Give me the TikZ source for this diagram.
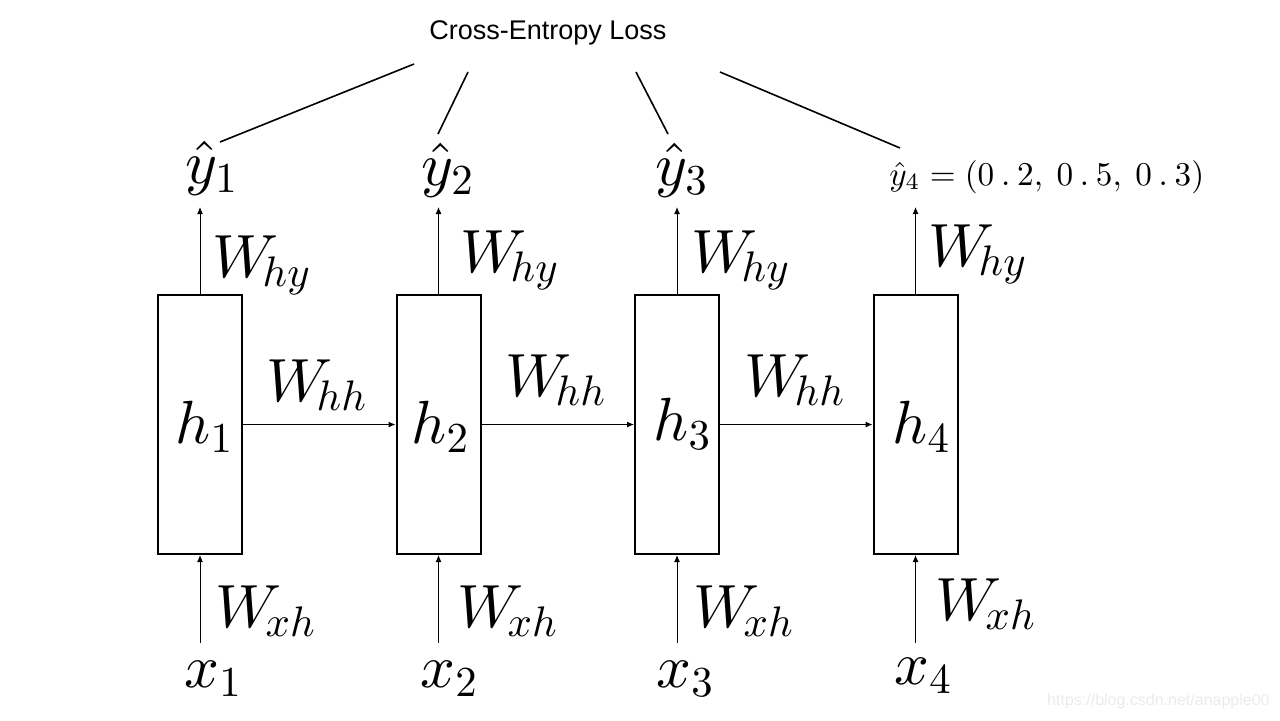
\documentclass[tikz,border=0pt]{standalone}
\usepackage{fontspec}
\usepackage{graphicx}
\newfontfamily\arialfont{Liberation Sans}
\usetikzlibrary{arrows.meta}
\newcommand{\rnnbig}[1]{\scalebox{3.05}{$#1$}}
\newcommand{\rnnmid}[1]{\scalebox{1.66}{$#1$}}
\newcommand{\rs}[1]{\scalebox{0.7}{$#1$}}
\newcommand{\ws}[1]{W_{\kern-1.2pt\rs{#1}}}
\begin{document}
\begin{tikzpicture}[x=0.5pt,y=-0.5pt,
  cell/.style={draw, line width=1pt, minimum width=42pt, minimum height=129.5pt, inner sep=0pt},
  flow/.style={line width=0.5pt, -{Latex[length=3.5pt,width=3pt]}},
  lossline/.style={line width=0.8pt},
  big/.style={font=\fontsize{10}{12}\selectfont, inner sep=0pt, anchor=base west},
  losstext/.style={font=\arialfont\fontsize{13.5}{16}\selectfont, inner sep=0pt},
  wmark/.style={font=\arialfont\fontsize{8}{9}\selectfont, text=black!8, inner sep=0pt, anchor=east}
]
\useasboundingbox (0,0) rectangle (1280,720);

% cells
\node[cell] (c1) at (200,424.5) {};
\node[cell] (c2) at (438.5,424.5) {};
\node[cell] (c3) at (677,424.5) {};
\node[cell] (c4) at (915.5,424.5) {};

% hidden state labels
\node[big] (h1) at (175,443) {\rnnbig{h_{\rs{1}}}};
\node[big] (h2) at (411,443) {\rnnbig{h_{\rs{2}}}};
\node[big] (h3) at (653,440) {\rnnbig{h_{\rs{3}}}};
\node[big] (h4) at (892,443) {\rnnbig{h_{\rs{4}}}};

% recurrent arrows
\draw[flow] (c1.east) -- (c2.west);
\draw[flow] (c2.east) -- (c3.west);
\draw[flow] (c3.east) -- (c4.west);
\node[big] (whh1) at (266,401) {\rnnbig{\ws{hh}}};
\node[big] (whh2) at (505,396) {\rnnbig{\ws{hh}}};
\node[big] (whh3) at (744,396) {\rnnbig{\ws{hh}}};

% outputs
\coordinate (t1) at (200,207);
\coordinate (t2) at (438.5,207);
\coordinate (t3) at (677,207);
\coordinate (t4) at (915.5,207);
\draw[flow] (c1.north) -- (t1);
\draw[flow] (c2.north) -- (t2);
\draw[flow] (c3.north) -- (t3);
\draw[flow] (c4.north) -- (t4);
\node[big] (why1) at (212,277) {\rnnbig{\ws{hy}}};
\node[big] (why2) at (460,272) {\rnnbig{\ws{hy}}};
\node[big] (why3) at (691,272) {\rnnbig{\ws{hy}}};
\node[big] (why4) at (928,266) {\rnnbig{\ws{hy}}};

\node[big] (y1) at (185,183) {\rnnbig{\hat{y}_{\rs{1}}}};
\node[big] (y2) at (421,185) {\rnnbig{\hat{y}_{\rs{2}}}};
\node[big] (y3) at (655,185) {\rnnbig{\hat{y}_{\rs{3}}}};
\node[big] (y4) at (889,185) {\rnnmid{\hat{y}_4 = (0\mkern3.7mu.\mkern3.7mu2,\mkern4.3mu 0\mkern3.7mu.\mkern3.7mu5,\mkern4.3mu 0\mkern3.7mu.\mkern3.7mu3)}};

% inputs
\coordinate (b1) at (200,643);
\coordinate (b2) at (438.5,643);
\coordinate (b3) at (677,643);
\coordinate (b4) at (915.5,643);
\draw[flow] (b1) -- (c1.south);
\draw[flow] (b2) -- (c2.south);
\draw[flow] (b3) -- (c3.south);
\draw[flow] (b4) -- (c4.south);
\node[big] (wxh1) at (215,627) {\rnnbig{\ws{xh}}};
\node[big] (wxh2) at (457,627) {\rnnbig{\ws{xh}}};
\node[big] (wxh3) at (693,627) {\rnnbig{\ws{xh}}};
\node[big] (wxh4) at (935,620) {\rnnbig{\ws{xh}}};

\node[big] (x1) at (184,687) {\rnnbig{x_{\rs{1}}}};
\node[big] (x2) at (420,687) {\rnnbig{x_{\rs{2}}}};
\node[big] (x3) at (656,687) {\rnnbig{x_{\rs{3}}}};
\node[big] (x4) at (894,684) {\rnnbig{x_{\rs{4}}}};

% loss
\node[losstext] (loss) at (548,33) {Cross-Entropy Loss};
\coordinate (l1) at (414,64);
\coordinate (l2) at (468,72);
\coordinate (l3) at (636,72);
\coordinate (l4) at (720,72);
\coordinate (e1) at (220,142);
\coordinate (e2) at (438,134);
\coordinate (e3) at (668,134);
\coordinate (e4) at (900,148);
\draw[lossline] (l1) -- (e1);
\draw[lossline] (l2) -- (e2);
\draw[lossline] (l3) -- (e3);
\draw[lossline] (l4) -- (e4);

\node[wmark] (wm) at (1270,701) {https://blog.csdn.net/anapple00};
\end{tikzpicture}
\end{document}
